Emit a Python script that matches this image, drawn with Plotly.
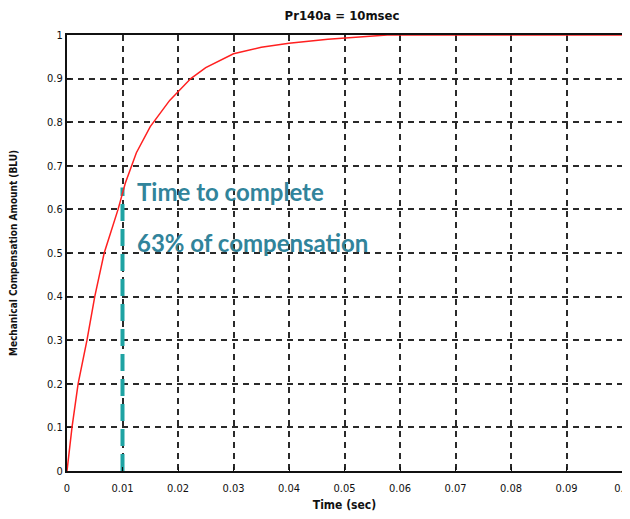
import plotly.graph_objects as go

# step response
time_s = [0, 0.0009, 0.002, 0.0036, 0.005, 0.0067, 0.0092, 0.0105, 0.0125, 0.015,
          0.0185, 0.0223, 0.025, 0.03, 0.035, 0.04, 0.047, 0.05, 0.0577, 0.1]
amount = [0, 0.1, 0.2, 0.3, 0.4, 0.5, 0.6, 0.66, 0.73, 0.79,
          0.85, 0.9, 0.925, 0.957, 0.972, 0.981, 0.99, 0.993, 1.0, 1.0]

marker_t = [0.01, 0.01]
marker_y = [0, 0.65]

x_ticks = [0, 0.01, 0.02, 0.03, 0.04, 0.05, 0.06, 0.07, 0.08, 0.09, 0.1]
x_labels = ["0", "0.01", "0.02", "0.03", "0.04", "0.05", "0.06", "0.07", "0.08", "0.09", "0.1"]
y_ticks = [0, 0.1, 0.2, 0.3, 0.4, 0.5, 0.6, 0.7, 0.8, 0.9, 1]
y_labels = ["0", "0.1", "0.2", "0.3", "0.4", "0.5", "0.6", "0.7", "0.8", "0.9", "1"]

TEAL = "#31849B"
LABEL_FONT = "DejaVu Sans Condensed, Liberation Sans Narrow, Arial"

fig = go.Figure()
fig.add_trace(go.Scatter(
    x=marker_t, y=marker_y, mode="lines",
    line=dict(color="#1FA3A3", width=4, dash="17px,8px"),
    hoverinfo="none",
))
fig.add_trace(go.Scatter(
    x=time_s, y=amount, mode="lines",
    line=dict(color="#FF2020", width=1.5),
))

fig.add_annotation(x=0.0122, y=0.64, xref="x", yref="y", text="<b>Time to complete</b>",
                   showarrow=False, xanchor="left",
                   font=dict(family="Lato, sans-serif", size=24, color=TEAL))
fig.add_annotation(x=0.0122, y=0.525, xref="x", yref="y", text="<b>63% of compensation</b>",
                   showarrow=False, xanchor="left",
                   font=dict(family="Lato, sans-serif", size=24, color=TEAL))

axis_common = dict(
    showgrid=True, gridcolor="#2a2a2a", griddash="6px,5px", gridwidth=2,
    showline=True, linecolor="#111", linewidth=2, mirror=True,
    zeroline=False, ticks="inside", ticklen=4, tickcolor="#111",
    automargin=False,
    tickfont=dict(family=LABEL_FONT, size=11, color="#111"),
)

# page body adds an 8px offset, so the figure is sized to fit the window
fig.update_layout(
    width=622, height=511,
    paper_bgcolor="white", plot_bgcolor="white",
    showlegend=False,
    margin=dict(l=59, r=8, t=27, b=48),
    title=dict(text="<b>Pr140a = 10msec</b>", x=0.537, xanchor="center", y=0.995, yanchor="top",
               font=dict(family=LABEL_FONT, size=13, color="#111")),
    xaxis=dict(range=[0, 0.1], tickvals=x_ticks, ticktext=x_labels, ticklabelstandoff=6,
               title=dict(text="<b>Time (sec)</b>", standoff=6,
                          font=dict(family=LABEL_FONT, size=12, color="#111")),
               **axis_common),
    yaxis=dict(range=[0, 1], tickvals=y_ticks, ticktext=y_labels,
               title=dict(text="<b>Mechanical Compensation Amount (BLU)</b>", standoff=28,
                          font=dict(family=LABEL_FONT, size=10, color="#111")),
               **axis_common),
)

fig.write_html("out.html")
